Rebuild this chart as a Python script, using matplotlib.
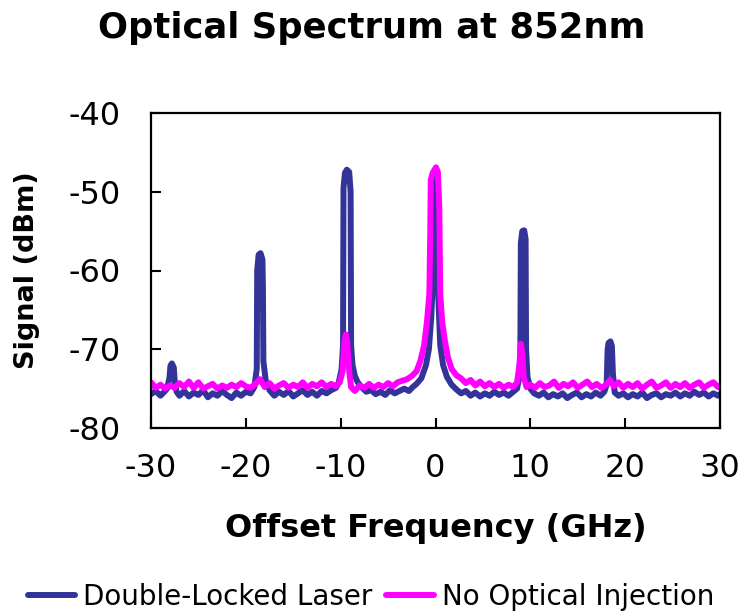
import matplotlib
matplotlib.use("Agg")
import matplotlib.pyplot as plt

# ---- data ----
dll_freq = [-30.0, -29.5, -29.0, -28.6, -28.3, -28.05, -27.95, -27.8, -27.6, -27.5, -27.3, -27.0,
            -26.5, -26.0, -25.5, -25.0, -24.5, -24.0, -23.5, -23.0, -22.5, -22.0, -21.5, -21.0,
            -20.5, -20.0, -19.5, -19.1, -18.85, -18.8, -18.65, -18.45, -18.25, -18.2, -18.15, -17.9,
            -17.5, -17.0, -16.5, -16.0, -15.5, -15.0, -14.5, -14.0, -13.5, -13.0, -12.5, -12.0,
            -11.5, -11.0, -10.5, -10.2, -9.9, -9.75, -9.7, -9.55, -9.35, -9.1, -8.95, -8.9,
            -8.75, -8.5, -8.2, -7.8, -7.3, -6.8, -6.3, -5.8, -5.3, -4.8, -4.3, -3.8,
            -3.3, -2.8, -2.4, -2.0, -1.5, -1.0, -0.7, -0.45, -0.3, -0.15, 0.0, 0.15,
            0.3, 0.5, 0.8, 1.2, 1.7, 2.2, 2.7, 3.2, 3.7, 4.2, 4.7, 5.2,
            5.7, 6.2, 6.7, 7.2, 7.7, 8.2, 8.6, 8.85, 8.95, 9.0, 9.15, 9.35,
            9.5, 9.55, 9.7, 10.0, 10.4, 10.9, 11.4, 11.9, 12.4, 12.9, 13.4, 13.9,
            14.4, 14.9, 15.4, 15.9, 16.4, 16.9, 17.4, 17.8, 18.05, 18.15, 18.25, 18.45,
            18.6, 18.7, 18.9, 19.3, 19.8, 20.3, 20.8, 21.3, 21.8, 22.3, 22.8, 23.3,
            23.8, 24.3, 24.8, 25.3, 25.8, 26.3, 26.8, 27.3, 27.8, 28.3, 28.8, 29.3,
            29.8, 30.0]
dll_dbm = [-75.7, -75.3, -75.9, -75.4, -75.0, -73.6, -72.1, -71.8, -72.3, -74.0, -75.4, -75.9,
           -75.3, -76.0, -75.5, -75.8, -75.2, -76.1, -75.6, -75.9, -75.3, -75.8, -76.2, -75.5,
           -75.9, -75.4, -75.6, -74.8, -72.5, -60.0, -58.0, -57.8, -58.6, -62.0, -71.5, -74.0,
           -75.2, -75.9, -75.4, -75.8, -75.3, -76.0, -75.6, -75.2, -75.8, -75.4, -75.9, -75.3,
           -75.6, -75.2, -74.9, -74.2, -72.5, -69.5, -49.5, -47.6, -47.2, -47.5, -50.0, -69.5,
           -72.0, -73.4, -74.2, -74.8, -75.4, -75.2, -75.7, -75.4, -75.8, -75.2, -75.6, -75.3,
           -75.0, -75.3, -74.8, -74.4, -73.7, -72.0, -70.0, -66.0, -62.0, -50.0, -48.3, -52.0,
           -63.5, -69.5, -72.0, -73.5, -74.5, -75.1, -75.6, -75.3, -75.9, -75.5, -76.0, -75.6,
           -75.9, -75.4, -75.8, -75.5, -75.9, -75.4, -75.0, -73.5, -70.0, -56.5, -55.0, -54.9,
           -56.0, -70.0, -73.5, -75.0, -75.6, -75.9, -75.5, -76.1, -75.7, -76.0, -75.6, -76.2,
           -75.8, -75.5, -76.1, -75.7, -76.0, -75.5, -75.9, -75.4, -74.5, -70.0, -69.2, -69.0,
           -69.6, -73.0, -75.5, -75.9, -75.6, -76.1, -75.7, -76.0, -75.5, -76.2, -75.8, -75.6,
           -76.1, -75.7, -75.9, -75.5, -76.0, -75.6, -75.9, -75.4, -75.8, -75.5, -76.0, -75.6,
           -75.9, -75.7]

noinj_freq = [-30.0, -29.5, -29.0, -28.5, -28.0, -27.5, -27.0, -26.5, -26.0, -25.5, -25.0, -24.5,
              -24.0, -23.5, -23.0, -22.5, -22.0, -21.5, -21.0, -20.5, -20.0, -19.5, -19.0, -18.5,
              -18.0, -17.5, -17.0, -16.5, -16.0, -15.5, -15.0, -14.5, -14.0, -13.5, -13.0, -12.5,
              -12.0, -11.5, -11.0, -10.5, -10.1, -9.8, -9.6, -9.45, -9.3, -9.1, -8.9, -8.5,
              -8.0, -7.5, -7.0, -6.5, -6.0, -5.5, -5.0, -4.5, -4.0, -3.5, -3.0, -2.5,
              -2.0, -1.6, -1.2, -0.9, -0.65, -0.55, -0.5, -0.3, 0.05, 0.25, 0.4, 0.5,
              0.7, 1.0, 1.3, 1.7, 2.2, 2.7, 3.2, 3.7, 4.2, 4.7, 5.2, 5.7,
              6.2, 6.7, 7.2, 7.7, 8.2, 8.6, 8.85, 9.0, 9.15, 9.3, 9.6, 10.0,
              10.5, 11.0, 11.5, 12.0, 12.5, 13.0, 13.5, 14.0, 14.5, 15.0, 15.5, 16.0,
              16.5, 17.0, 17.5, 18.0, 18.4, 18.8, 19.3, 19.8, 20.3, 20.8, 21.3, 21.8,
              22.3, 22.8, 23.3, 23.8, 24.3, 24.8, 25.3, 25.8, 26.3, 26.8, 27.3, 27.8,
              28.3, 28.8, 29.3, 29.8, 30.0]
noinj_dbm = [-74.2, -74.9, -74.5, -75.0, -74.6, -74.9, -74.3, -74.8, -74.1, -74.9, -74.2, -75.0,
             -74.7, -74.4, -75.0, -74.6, -74.9, -74.5, -74.8, -74.3, -74.7, -74.9, -74.4, -73.8,
             -74.8, -74.3, -75.0, -74.6, -74.3, -74.9, -74.5, -74.8, -74.2, -74.9, -74.4, -74.7,
             -74.2, -74.8, -74.4, -74.7, -74.2, -72.8, -69.2, -68.1, -69.2, -72.8, -74.8, -75.3,
             -74.6, -74.9, -74.4, -74.9, -74.5, -74.8, -74.3, -74.7, -74.2, -74.0, -73.8, -73.4,
             -72.8, -71.5, -69.5, -66.5, -63.0, -55.0, -48.5, -47.6, -46.9, -47.5, -52.0, -63.0,
             -66.5, -69.0, -71.0, -72.5, -73.3, -73.7, -74.3, -73.9, -74.6, -74.1, -74.7, -74.3,
             -74.8, -74.4, -74.9, -74.5, -74.8, -74.2, -72.0, -69.3, -70.5, -73.5, -74.8, -74.5,
             -74.9, -74.3, -74.8, -74.6, -74.1, -74.9, -74.4, -74.7, -74.2, -74.9, -74.5, -74.1,
             -74.8, -74.4, -74.9, -74.5, -73.9, -74.7, -74.2, -74.9, -74.4, -74.8, -74.3, -75.0,
             -74.5, -74.1, -74.9, -74.6, -74.2, -74.9, -74.4, -74.8, -74.3, -74.9, -74.5, -74.2,
             -74.9, -74.5, -74.2, -74.8, -74.6]

series_labels = ["Double-Locked Laser", "No Optical Injection"]
series_colors = ["#333399", "#FF00FF"]
x_ticks = [-30, -20, -10, 0, 10, 20, 30]
y_ticks = [-80, -70, -60, -50, -40]
title = "Optical Spectrum at 852nm"
x_label = "Offset Frequency (GHz)"
y_label = "Signal (dBm)"

# ---- style ----
plt.rcParams['font.family'] = ['DejaVu Sans']
plt.rcParams['axes.unicode_minus'] = False

fig = plt.figure(figsize=(7.39, 6.12), dpi=100)
ax = fig.add_axes([151 / 739, 1 - 428 / 612, 569 / 739, 315 / 612])

lines = []
for fx, fy, lab, col in [(dll_freq, dll_dbm, series_labels[0], series_colors[0]),
                         (noinj_freq, noinj_dbm, series_labels[1], series_colors[1])]:
    ln, = ax.plot(fx, fy, color=col, lw=4.3, label=lab,
                  solid_joinstyle='round', solid_capstyle='round')
    lines.append(ln)

ax.set_xlim(-30, 30)
ax.set_ylim(-80, -40)
ax.set_xticks(x_ticks)
ax.set_xticklabels([str(v) for v in x_ticks])
ax.set_yticks(y_ticks)
ax.set_yticklabels([str(v) for v in y_ticks])
ax.tick_params(direction='in', length=7, width=1.5, labelsize=23)
ax.tick_params(axis='y', pad=22)
ax.tick_params(axis='x', pad=18)
for sp in ax.spines.values():
    sp.set_linewidth(1.6)
    sp.set_color('black')

ax.set_xlabel(x_label, fontsize=23, fontweight='bold')
ax.xaxis.label.set_va('center')
ax.xaxis.set_label_coords(0.5, (428 - 528) / 315)
ax.set_ylabel(y_label, fontsize=19.5, fontweight='bold')
ax.yaxis.label.set_va('center')
ax.yaxis.set_label_coords((27 - 151) / 569, 0.5)

fig.text(372 / 739, 1 - 28 / 612, title, fontsize=25.5, fontweight='bold',
         ha='center', va='center')

fig.legend(handles=lines, labels=series_labels, loc='center',
           bbox_to_anchor=(371 / 739, 1 - 597 / 612), ncol=2, frameon=False,
           fontsize=20, handlelength=1.7, handletextpad=0.3, columnspacing=0.5,
           borderaxespad=0, borderpad=0)

fig.savefig("out.png", dpi=100)
